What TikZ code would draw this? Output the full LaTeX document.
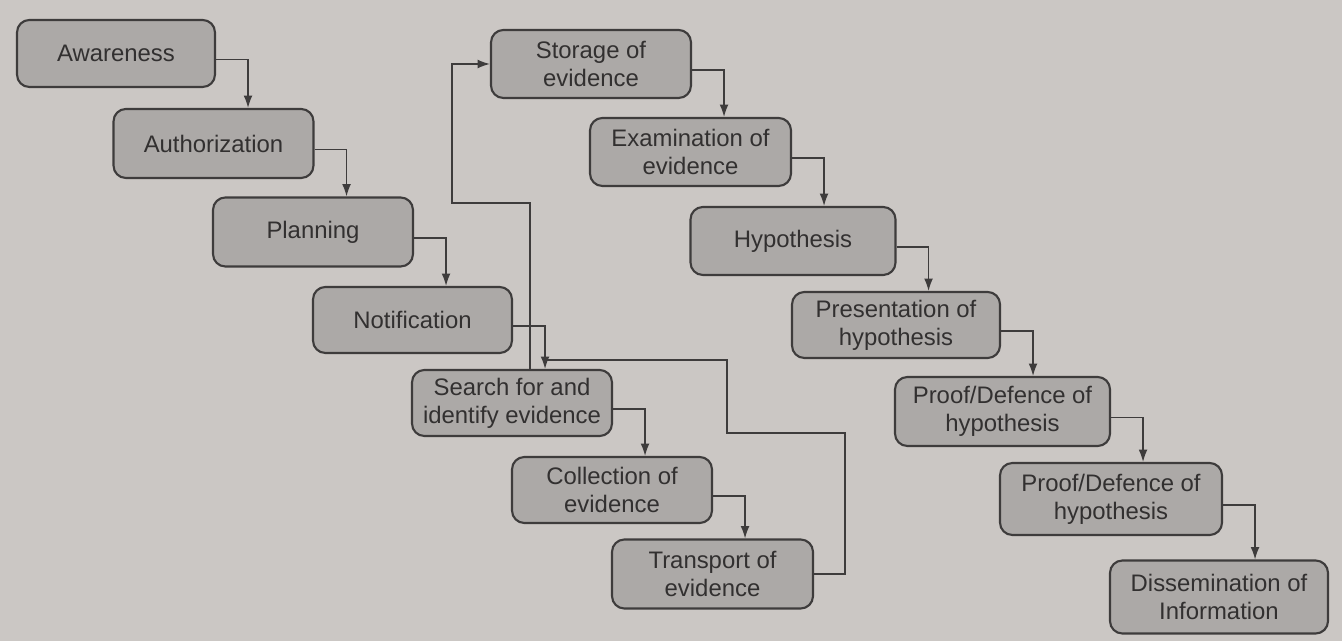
\documentclass[tikz,border=0pt]{standalone}
\usepackage{fontspec}
\setmainfont{Liberation Sans}
\usetikzlibrary{arrows.meta,calc}
\definecolor{paper}{RGB}{203,199,196}
\definecolor{boxfill}{RGB}{172,169,167}
\definecolor{boxline}{RGB}{62,60,60}
\definecolor{inkc}{RGB}{50,48,48}
\tikzset{
  stage/.style={draw=boxline, line width=1.2pt, fill=boxfill, rounded corners=7pt,
    align=center, text=inkc, inner sep=0pt,
    font=\fontsize{13.6pt}{15.8pt}\selectfont},
  conn/.style={draw=boxline, line width=0.8pt, -{Latex[length=7pt,width=5pt]}},
  plainline/.style={draw=boxline, line width=0.8pt},
}
\newcommand\linkstage[2]{\draw[conn] ([yshift=-0.12cm]#1.east) -- ++(32,0) coordinate (tmp) -- (tmp |- #2.north);}
\begin{document}
\begin{tikzpicture}[x=0.02cm,y=-0.02cm]
\fill[paper] (0,0) rectangle (1342,641);
\useasboundingbox (0,0) rectangle (1342,641);
% left column
\node[stage, minimum width=3.96cm, minimum height=1.34cm] (aw) at (116,53.5) {Awareness};
\node[stage, minimum width=4.0cm, minimum height=1.38cm] (au) at (213.5,143.5) {Authorization};
\node[stage, minimum width=4.0cm, minimum height=1.38cm] (pl) at (313,232) {Planning};
\node[stage, minimum width=3.98cm, minimum height=1.32cm] (no) at (412.5,320) {Notification};
\node[stage, minimum width=4.0cm, minimum height=1.32cm] (se) at (512,403) {Search for and\\identify evidence};
\node[stage, minimum width=4.0cm, minimum height=1.32cm] (co) at (612,490) {Collection of\\evidence};
\node[stage, minimum width=4.02cm, minimum height=1.38cm] (tr) at (712.5,574) {Transport of\\evidence};
% right column
\node[stage, minimum width=4.0cm, minimum height=1.36cm] (st) at (591,64) {Storage of\\evidence};
\node[stage, minimum width=4.02cm, minimum height=1.36cm] (ex) at (690.5,152) {Examination of\\evidence};
\node[stage, minimum width=4.1cm, minimum height=1.36cm] (hy) at (793,241) {Hypothesis};
\node[stage, minimum width=4.16cm, minimum height=1.32cm] (pr) at (896,325) {Presentation of\\hypothesis};
\node[stage, minimum width=4.3cm, minimum height=1.38cm] (pd) at (1002.5,411.5) {Proof/Defence of\\hypothesis};
\node[stage, minimum width=4.44cm, minimum height=1.44cm] (pe) at (1111,499) {Proof/Defence of\\hypothesis};
\node[stage, minimum width=4.36cm, minimum height=1.46cm] (di) at (1219,597) {Dissemination of\\Information};
% step connectors
\linkstage{aw}{au}
\linkstage{au}{pl}
\linkstage{pl}{no}
\linkstage{no}{se}
\linkstage{se}{co}
\linkstage{co}{tr}
\linkstage{st}{ex}
\linkstage{ex}{hy}
\linkstage{hy}{pr}
\linkstage{pr}{pd}
\linkstage{pd}{pe}
\linkstage{pe}{di}
% return line from transport
\coordinate (j1) at (845,433);
\coordinate (j2) at (727,433);
\coordinate (j3) at (727,360);
\coordinate (j4) at (545,360);
\draw[plainline] (tr.east) -- (tr.east -| j1) -- (j1) -- (j2) -- (j3) -- (j4);
% line up to storage
\coordinate (k1) at (530,203);
\coordinate (k2) at (452,203);
\draw[conn] (se.north -| k1) -- (k1) -- (k2) -- (k2 |- st.west) -- (st.west);
\end{tikzpicture}
\end{document}
